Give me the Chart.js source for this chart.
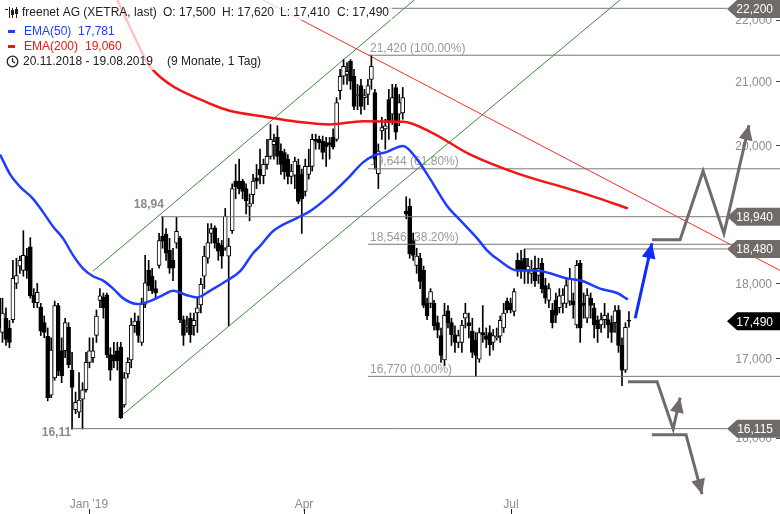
<!DOCTYPE html>
<html>
<head>
<meta charset="utf-8">
<script src="https://cdn.jsdelivr.net/npm/chart.js@4.4.0/dist/chart.umd.min.js"></script>
<style>
  html, body { margin: 0; padding: 0; background: #fff; }
  canvas { display: block; }
</style>
</head>
<body>
<canvas id="chart" width="780" height="514"></canvas>
<script>
// freenet AG daily candles, 20.11.2018 - 19.08.2019 (index = trading day)
const opens = [
  17.80,17.34,17.53,17.40,17.51,18.00,18.24,18.18,18.38,18.51,
  17.84,17.74,17.68,17.47,17.29,16.53,16.75,17.70,17.10,17.10,
  17.41,16.85,16.35,16.32,16.48,16.60,16.95,17.01,17.30,17.77,
  17.81,17.84,17.05,17.04,17.10,17.15,16.41,16.80,16.98,17.43,
  17.49,17.21,17.72,18.18,18.10,17.93,18.25,18.66,18.69,18.46,
  18.32,18.56,18.63,17.51,17.41,17.53,17.43,17.60,17.71,18.10,
  18.35,18.70,18.78,18.56,18.53,18.49,18.38,18.74,19.46,19.46,
  19.46,19.35,19.09,19.26,19.51,19.64,19.54,19.71,19.83,20.01,
  20.12,19.91,19.89,19.79,19.53,19.55,19.70,19.56,19.31,19.56,
  19.68,20.09,20.09,20.06,20.04,20.04,20.12,20.09,20.85,21.08,
  21.11,21.32,21.08,20.77,20.93,20.74,20.79,21.03,20.82,19.57,
  20.22,20.25,20.71,20.48,20.90,20.48,20.50,19.02,19.09,18.60,
  18.25,18.35,18.18,17.73,17.73,17.73,17.47,17.30,16.98,17.63,
  17.47,17.31,17.21,17.21,17.53,17.47,17.36,17.24,16.99,17.34,
  17.30,17.34,17.21,17.27,17.29,17.40,17.76,17.73,17.62,18.32,
  18.31,18.35,18.18,18.14,18.21,18.11,18.28,17.97,17.77,17.64,
  17.77,17.67,17.73,17.73,17.76,17.76,17.44,18.28,17.73,17.53,
  17.80,17.67,17.50,17.44,17.51,17.51,17.47,17.47,17.64,17.17,
  16.85,17.50
];
const highs = [
  17.83,17.80,17.67,17.50,18.32,18.35,18.38,18.74,18.49,18.64,
  17.93,18.00,17.73,17.56,17.40,17.27,17.76,17.73,17.27,17.53,
  17.47,17.08,16.57,16.82,16.69,17.08,17.27,17.27,17.64,17.93,
  17.87,17.87,17.14,17.21,17.21,17.21,16.82,17.01,17.53,17.60,
  17.56,17.80,18.39,18.32,18.21,18.04,18.70,18.94,18.77,18.63,
  18.49,18.93,18.66,17.56,17.56,17.60,17.60,17.80,18.07,18.52,
  18.84,18.84,18.81,18.63,18.60,19.06,18.63,19.42,19.71,19.79,
  19.49,19.42,19.27,19.56,19.71,19.94,19.79,20.09,20.32,20.17,
  20.30,20.02,19.94,19.86,19.71,19.82,19.79,19.64,19.79,19.94,
  20.17,20.17,20.14,20.14,20.12,20.12,20.25,20.74,21.19,21.35,
  21.30,21.35,21.19,20.95,21.03,20.87,21.03,21.42,20.87,20.02,
  20.43,20.40,20.87,20.95,20.95,20.79,20.90,19.23,19.20,18.70,
  18.49,18.42,18.24,17.80,17.93,17.77,17.56,17.40,17.73,17.70,
  17.53,17.43,17.37,17.50,17.73,17.60,17.53,17.34,17.40,17.70,
  17.40,17.43,17.38,17.40,17.56,17.73,17.80,17.80,17.93,18.42,
  18.46,18.48,18.35,18.32,18.38,18.35,18.35,18.07,18.00,17.73,
  17.87,17.93,17.93,18.07,18.21,17.87,18.32,18.32,17.87,17.93,
  17.87,17.73,17.56,17.60,17.73,17.60,17.56,17.70,17.70,17.27,
  17.47,17.62
];
const lows = [
  17.27,17.21,17.17,17.14,17.47,17.93,18.14,18.10,18.07,17.80,
  17.67,17.67,17.30,17.27,16.46,16.50,16.72,16.78,16.69,17.01,
  16.88,16.11,16.30,16.25,16.11,16.57,16.88,16.95,17.21,17.67,
  17.53,17.01,16.72,16.88,16.85,16.24,16.38,16.75,16.88,17.34,
  17.21,17.17,17.67,17.90,17.86,17.80,18.21,18.49,18.32,18.14,
  18.04,18.49,17.47,17.17,17.34,17.21,17.30,17.34,17.60,17.93,
  18.28,18.56,18.49,18.32,18.21,18.46,17.43,18.70,19.20,19.27,
  19.20,18.98,18.88,19.13,19.35,19.42,19.42,19.64,19.79,19.79,
  19.71,19.56,19.49,19.42,19.42,19.35,19.13,18.70,19.24,19.49,
  19.61,19.94,19.94,19.79,19.68,19.79,19.94,20.06,20.71,20.95,
  20.95,20.87,20.55,20.55,20.48,20.55,20.63,20.87,19.64,19.35,
  20.09,19.94,20.09,20.32,20.09,20.30,20.40,18.91,18.35,18.32,
  18.14,17.93,17.67,17.51,17.67,17.37,17.27,16.95,16.91,17.40,
  17.17,17.08,17.14,17.08,17.40,17.27,17.01,16.77,16.95,17.21,
  17.14,17.04,17.11,17.24,17.21,17.34,17.60,17.60,17.56,18.10,
  18.07,18.00,18.00,18.00,17.96,18.00,17.87,17.73,17.67,17.40,
  17.47,17.60,17.60,17.67,17.70,17.53,17.40,17.21,17.53,17.47,
  17.53,17.27,17.21,17.34,17.40,17.27,17.21,17.34,17.08,16.65,
  16.82,17.41
];
const closes = [
  17.40,17.60,17.25,17.21,18.07,18.11,18.32,18.39,18.18,17.83,
  17.74,17.88,17.36,17.34,16.50,17.11,17.70,16.84,16.78,17.47,
  16.92,16.63,16.44,16.47,16.60,16.95,17.10,17.10,17.56,17.83,
  17.67,17.05,16.85,16.97,16.97,16.25,16.75,16.95,17.44,17.49,
  17.30,17.72,18.01,17.97,17.90,17.87,18.60,18.59,18.42,18.21,
  18.21,18.73,17.51,17.30,17.44,17.31,17.50,17.67,17.99,18.38,
  18.57,18.77,18.56,18.45,18.38,18.95,18.52,19.35,19.38,19.35,
  19.31,19.17,19.13,19.46,19.46,19.55,19.71,19.83,20.09,20.06,
  19.83,19.71,19.60,19.53,19.61,19.76,19.16,19.20,19.68,19.68,
  20.09,20.06,20.04,19.89,19.98,20.00,19.97,20.66,21.08,21.24,
  21.16,21.00,20.60,20.79,20.60,20.77,20.93,21.24,19.79,19.91,
  20.27,20.30,20.35,20.74,20.20,20.66,20.74,18.98,18.41,18.39,
  18.38,18.03,17.70,17.56,17.89,17.43,17.37,17.04,17.57,17.47,
  17.31,17.21,17.30,17.44,17.60,17.43,17.08,17.04,17.34,17.31,
  17.25,17.18,17.30,17.29,17.50,17.60,17.64,17.64,17.89,18.18,
  18.17,18.18,18.24,18.18,18.04,18.21,17.93,17.80,17.93,17.47,
  17.57,17.83,17.84,17.97,18.07,17.71,18.25,17.40,17.70,17.84,
  17.70,17.44,17.39,17.51,17.57,17.44,17.34,17.63,17.17,16.85,
  17.41,17.49
];

// moving averages (x = trading day index)
const ema50Idx = [0.3,3.2,6,9.8,12.6,15.5,18.4,21.3,24.1,27,29.9,32.8,35.6,39.7,43.4,47.1,50,54,56.9,60.6,
  65.5,69.3,73,75,78.7,85.6,89.4,95.1,100,104.6,107.5,111.5,116.1,120.1,123.9,128.7,132.5,137.4,140.2,144,
  148.9,154.6,158.3,163.2,167.8,172.7,177.6,180.7];
const ema50 = [19.86,19.56,19.38,19.20,19.01,18.80,18.63,18.39,18.21,18.10,18.04,17.93,17.80,17.72,17.76,17.84,17.90,17.84,17.81,17.90,
  18.04,18.17,18.42,18.52,18.73,18.92,19.02,19.25,19.49,19.74,19.84,19.90,19.99,19.79,19.49,19.10,18.89,18.63,18.46,18.31,
  18.18,18.18,18.14,18.07,18.03,17.93,17.87,17.781];
const ema200Idx = [34,38,43,49.1,57.8,62.6,67.2,75,85.6,95,104.6,116.1,123.8,135.3,149.7,163.5,170.4,180.7];
const ema200 = [22.34,21.84,21.27,20.95,20.71,20.60,20.52,20.45,20.36,20.32,20.37,20.36,20.21,19.86,19.56,19.35,19.24,19.06];

// trend lines [index, price]
const channelUpper = [[27, 18.17], [119.3, 22.34]];
const channelLower = [[34.5, 16.25], [178.4, 22.34]];
const trendDown = [[75.9, 22.34], [224.4, 18.18]];

// horizontal levels: value, from index, to index
const levelValues = [22.2, 21.42, 19.644, 18.94, 18.546, 18.48, 16.77, 16.115];
const levelFrom   = [108, 106, 106, 46.5, 106, 151, 106, 21];
const levelTo     = [209.2, 224.4, 224.4, 209.2, 224.4, 209.2, 224.4, 209.2];

const fibValues = [21.42, 19.644, 18.546, 16.77];
const fibPct = ['100.00%', '61.80%', '38.20%', '0.00%'];

const tagValues = [22.2, 18.94, 18.48, 16.115];
const lastClose = 17.49;

// projected scenario arrows
const arrowUp   = [[187.6, 18.61], [195.7, 18.61], [202.3, 19.61], [208.3, 18.70], [215.5, 20.31]];
const arrowMid  = [[180.7, 16.70], [189.1, 16.70], [193.7, 16.11], [195.7, 16.50]];
const arrowDown = [[187.6, 16.04], [197.4, 16.04], [202.0, 15.33]];
const arrowBlue = [[182.8, 17.53], [187.6, 18.56]];

const yTicks = [16, 17, 18, 19, 20, 21, 22];
const xTickIdx = [26, 87.5, 147];
const xTickLabels = ["Jan '19", 'Apr', 'Jul'];

const FONT = '12px "Liberation Sans", Arial, sans-serif';
const BLUE = '#1f3dff';
const RED = '#f51414';
const GREY = '#706b68';
const fmt = v => v.toFixed(3).replace('.', ',');
const pts = arr => arr.map(p => ({ x: p[0], y: p[1] }));

function lineSet(data, color, width, extra) {
  return Object.assign({
    type: 'line', data: data, borderColor: color, borderWidth: width,
    pointRadius: 0, fill: false, tension: 0, order: 0
  }, extra || {});
}

const datasets = [
  {
    type: 'bar',
    data: opens.map((o, i) => ({ x: i, y: [lows[i], highs[i]] })),
    backgroundColor: '#000', barThickness: 1, grouped: false, order: 5
  },
  {
    type: 'bar',
    data: opens.map((o, i) => ({ x: i, y: [o, closes[i]] })),
    backgroundColor: opens.map((o, i) => closes[i] >= o ? '#fff' : '#000'),
    borderColor: '#000', borderWidth: 1, borderSkipped: false,
    barThickness: 4, minBarLength: 1, grouped: false, order: 4
  },
  lineSet(pts(channelUpper), '#3c8c3c', 1, { order: 6 }),
  lineSet(pts(channelLower), '#3c8c3c', 1, { order: 6 }),
  lineSet(pts(trendDown), '#ff2a2a', 1, { order: 6 }),
  lineSet(ema200Idx.map((x, i) => ({ x: x, y: ema200[i] })), RED, 2.5, { cubicInterpolationMode: 'monotone', order: 2 }),
  lineSet(ema50Idx.map((x, i) => ({ x: x, y: ema50[i] })), BLUE, 2.5, { cubicInterpolationMode: 'monotone', order: 2 }),
  lineSet(pts(arrowUp), GREY, 3, { arrow: true }),
  lineSet(pts(arrowMid), GREY, 3, { arrow: true }),
  lineSet(pts(arrowDown), GREY, 3, { arrow: true }),
  lineSet(pts(arrowBlue), '#0a2cff', 3, { arrow: true })
];
levelValues.forEach((v, i) => {
  datasets.push(lineSet([{ x: levelFrom[i], y: v }, { x: levelTo[i], y: v }], '#787878', 1, { order: 3 }));
});

function drawTag(ctx, py, text, color) {
  ctx.fillStyle = color;
  ctx.beginPath();
  ctx.moveTo(727, py);
  ctx.lineTo(737, py - 9);
  ctx.lineTo(780, py - 9);
  ctx.lineTo(780, py + 9);
  ctx.lineTo(737, py + 9);
  ctx.closePath();
  ctx.fill();
  ctx.fillStyle = '#fff';
  ctx.textAlign = 'right';
  ctx.textBaseline = 'middle';
  ctx.fillText(text, 773, py + 1);
}

const overlay = {
  id: 'overlay',
  beforeDraw(chart) {
    const ctx = chart.ctx;
    ctx.save();
    ctx.fillStyle = '#fff';
    ctx.fillRect(0, 0, chart.width, chart.height);
    ctx.restore();
  },
  beforeDatasetsDraw(chart) {
    const { ctx, scales: { x, y } } = chart;
    ctx.save();
    ctx.font = FONT;
    ctx.textBaseline = 'middle';
    // price axis
    yTicks.forEach(v => {
      const py = y.getPixelForValue(v);
      ctx.fillStyle = '#8c8c8c';
      ctx.textAlign = 'right';
      ctx.fillText(fmt(v), 772, py + 1);
      ctx.fillStyle = '#444';
      ctx.fillRect(776, Math.round(py), 4, 1);
    });
    // time axis
    xTickIdx.forEach((idx, i) => {
      const px = Math.round(x.getPixelForValue(idx));
      ctx.fillStyle = '#8c8c8c';
      ctx.textAlign = 'center';
      ctx.fillText(xTickLabels[i], px, 505);
      ctx.fillStyle = '#222';
      ctx.fillRect(px, 509, 1, 5);
    });
    // fibonacci labels
    ctx.fillStyle = '#999';
    ctx.textAlign = 'left';
    fibValues.forEach((v, i) => {
      ctx.fillText(fmt(v) + ' (' + fibPct[i] + ')', 370, y.getPixelForValue(v) - 7);
    });
    // swing high / low labels
    ctx.font = 'bold ' + FONT;
    ctx.fillStyle = '#8a8a8a';
    ctx.textAlign = 'right';
    ctx.fillText('18,94', x.getPixelForValue(levelFrom[3]) + 3, y.getPixelForValue(18.94) - 12);
    ctx.fillText('16,11', x.getPixelForValue(levelFrom[7]) - 1, y.getPixelForValue(16.115) + 4);
    ctx.restore();
  },
  afterDatasetsDraw(chart) {
    const ctx = chart.ctx;
    chart.data.datasets.forEach((ds, i) => {
      if (!ds.arrow) return;
      const el = chart.getDatasetMeta(i).data;
      const a = el[el.length - 2], b = el[el.length - 1];
      const ang = Math.atan2(b.y - a.y, b.x - a.x);
      const len = 15, half = 7;
      const bx = b.x - len * Math.cos(ang), by = b.y - len * Math.sin(ang);
      ctx.save();
      ctx.fillStyle = ds.borderColor;
      ctx.beginPath();
      ctx.moveTo(b.x, b.y);
      ctx.lineTo(bx + half * Math.sin(ang), by - half * Math.cos(ang));
      ctx.lineTo(bx - half * Math.sin(ang), by + half * Math.cos(ang));
      ctx.closePath();
      ctx.fill();
      ctx.restore();
    });
  },
  afterDraw(chart) {
    const { ctx, scales: { y } } = chart;
    ctx.save();
    ctx.font = FONT;
    tagValues.forEach(v => drawTag(ctx, Math.max(9, y.getPixelForValue(v)), fmt(v), GREY));
    drawTag(ctx, y.getPixelForValue(lastClose), fmt(lastClose), '#000');

    // legend header
    ctx.fillStyle = 'rgba(255,255,255,0.75)';
    ctx.fillRect(0, 0, 392, 20);
    ctx.fillRect(0, 20, 266, 50);
    ctx.textAlign = 'left';
    ctx.textBaseline = 'middle';
    ctx.fillStyle = '#222';
    ctx.fillText('freenet AG (XETRA, last)', 22, 13);
    ctx.fillText('O: 17,500', 163, 13);
    ctx.fillText('H: 17,620', 222, 13);
    ctx.fillText('L: 17,410', 280, 13);
    ctx.fillText('C: 17,490', 337, 13);
    // little candle icon
    ctx.fillRect(5, 9, 3, 1);
    ctx.fillRect(9, 7, 1, 11);
    ctx.strokeStyle = '#222';
    ctx.lineWidth = 1;
    ctx.strokeRect(11.5, 10.5, 2, 4);
    ctx.fillRect(12, 8, 1, 10);
    ctx.fillRect(15, 9, 3, 5);
    ctx.fillRect(16, 7, 1, 11);

    ctx.fillStyle = BLUE;
    ctx.fillRect(8, 30, 7, 3);
    ctx.fillText('EMA(50)', 24, 32);
    ctx.fillText('17,781', 78, 32);
    ctx.fillStyle = RED;
    ctx.fillRect(8, 45, 7, 3);
    ctx.fillText('EMA(200)', 24, 47);
    ctx.fillText('19,060', 85, 47);

    ctx.fillStyle = '#222';
    ctx.strokeStyle = '#222';
    ctx.lineWidth = 1.3;
    ctx.beginPath();
    ctx.arc(12.5, 61.5, 5.3, 0, Math.PI * 2);
    ctx.moveTo(12.5, 58);
    ctx.lineTo(12.5, 61.5);
    ctx.lineTo(15, 63);
    ctx.stroke();
    ctx.fillText('20.11.2018 - 19.08.2019', 23, 62);
    ctx.fillText('(9 Monate, 1 Tag)', 167, 62);
    ctx.restore();
  }
};

new Chart(document.getElementById('chart').getContext('2d'), {
  type: 'bar',
  data: { datasets: datasets },
  options: {
    responsive: false,
    animation: false,
    layout: { padding: 0 },
    plugins: { legend: { display: false }, tooltip: { enabled: false } },
    scales: {
      x: { type: 'linear', min: 0.29, max: 224.4, offset: false, display: false },
      y: { type: 'logarithmic', min: 15.136, max: 22.341, display: false }
    }
  },
  plugins: [overlay]
});
</script>
</body>
</html>
